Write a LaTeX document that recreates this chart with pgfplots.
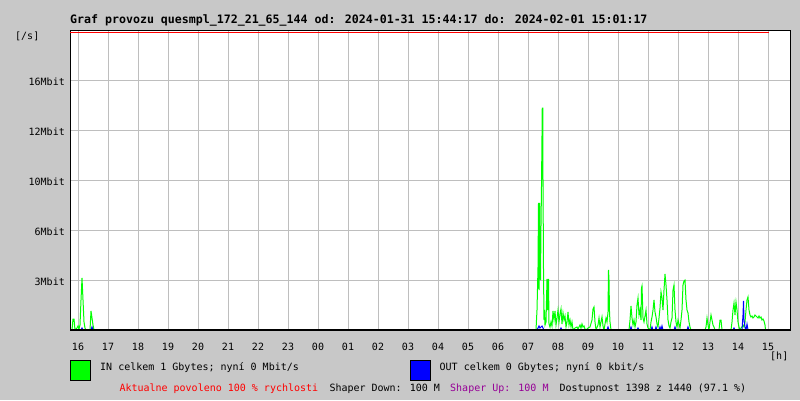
\documentclass[border=0pt]{standalone}
\usepackage{fontspec}
\setmainfont{DejaVu Sans Mono}
\usepackage{pgfplots}
\pgfplotsset{compat=1.18}
\definecolor{bggray}{RGB}{200,200,200}
\definecolor{gridgray}{RGB}{190,190,190}
\definecolor{ingreen}{RGB}{0,255,0}
\definecolor{outblue}{RGB}{0,0,255}
\definecolor{shaperup}{RGB}{150,0,150}

\begin{document}
\begin{tikzpicture}
\fill[bggray] (0pt,0pt) rectangle (800pt,400pt);
\useasboundingbox (0pt,0pt) rectangle (800pt,400pt);

% x: minutes since 16:00, y: plot height in px
\begin{axis}[
  at={(70pt,70pt)}, anchor=south west,
  scale only axis, width=720pt, height=300pt,
  xmin=-16, xmax=1424, ymin=0, ymax=300,
  axis background/.style={fill=white},
  axis line style={black, line width=0.8pt},
  xtick={0,60,...,1380},
  xticklabels={16,17,18,19,20,21,22,23,00,01,02,03,04,05,06,07,08,09,10,11,12,13,14,15},
  ytick={50,100,150,200,250},
  yticklabels={3Mbit,6Mbit,10Mbit,12Mbit,16Mbit},
  grid=major,
  major grid style={gridgray, line width=1pt},
  major tick length=0pt,
  xticklabel style={font=\fontsize{10}{12}\selectfont, anchor=base, inner sep=0pt, yshift=-20.7pt},
  yticklabel style={font=\fontsize{10}{12}\selectfont, anchor=base east, inner sep=0pt, xshift=-5pt, yshift=-5.7pt},
  clip=true,
]
\addplot[ingreen, line width=1pt, sharp plot] coordinates {
(-16,0) (-12,0) (-10,11) (-8,11) (-6,0) (-2,2) (0,4) (2,1) (4,5) (6,30) (8,52) (10,30) (12,8) (14,2) (16,0) (24,0) (26,19) (28,12) (30,5) (32,0)
(916,0) (918,20) (920,63) (921,127) (922,40) (923,127) (924,80) (925,50) (926,105) (927,144) (928,195) (928.5,222) (929.5,222) (929.5,165) (930,150) (931,60) (932,10) (933,20) (934,5) (936,8) (938,51) (939,20) (940,28) (941,51) (942,6) (944,3) (946,8) (948,4) (950,19) (952,10) (954,19) (956,5) (958,12) (960,20) (962,8) (964,16) (966,21) (968,6) (970,17) (972,10) (974,14) (976,3) (978,8) (980,18) (982,5) (984,10) (986,3) (988,8) (990,0) (994,2) (998,3) (1000,1) (1004,5) (1006,2) (1008,6) (1010,3) (1012,4) (1014,1) (1016,0) (1020,2) (1024,3) (1028,10) (1030,21) (1032,23) (1034,8) (1036,0) (1040,5) (1042,12) (1044,3) (1046,8) (1048,13) (1050,4) (1052,0) (1054,6) (1056,12) (1058,8) (1060,18) (1061,60) (1062,50) (1063,18) (1064,8) (1066,0)
(1102,0) (1104,10) (1106,24) (1108,12) (1110,5) (1112,10) (1114,3) (1116,8) (1118,25) (1120,32) (1122,15) (1124,20) (1126,10) (1127,42) (1128,44) (1130,12) (1132,8) (1134,14) (1136,20) (1138,6) (1140,2) (1144,0) (1146,8) (1148,13) (1150,20) (1152,30) (1154,18) (1156,13) (1158,6) (1160,3) (1162,12) (1164,22) (1166,38) (1168,32) (1170,20) (1172,40) (1174,56) (1176,45) (1178,30) (1180,10) (1182,4) (1184,2) (1186,8) (1188,12) (1190,40) (1192,45) (1194,20) (1196,8) (1198,3) (1200,10) (1202,6) (1204,2) (1206,10) (1208,20) (1210,45) (1212,49) (1214,50) (1216,30) (1218,20) (1220,17) (1222,8) (1224,3) (1226,0)
(1254,0) (1256,3) (1258,12) (1260,5) (1262,0) (1264,8) (1266,15) (1268,10) (1270,5) (1272,3) (1274,0) (1282,0) (1284,10) (1286,10) (1288,0)
(1306,0) (1308,8) (1310,20) (1312,27) (1314,15) (1316,28) (1318,20) (1320,8) (1322,3) (1324,0) (1326,2) (1328,3) (1330,5) (1332,3) (1334,8) (1336,20) (1338,30) (1340,33) (1342,20) (1344,15) (1346,13) (1348,14) (1350,12) (1352,13) (1354,15) (1356,14) (1358,13) (1360,12) (1362,14) (1364,12) (1366,13) (1368,10) (1370,11) (1372,9) (1374,5) (1375,0) (1382,0)
};
\addplot[outblue, line width=1pt, sharp plot] coordinates {
(-16,0) (6,0) (8,2) (10,0) (26,0) (28,3) (30,0) (918,0) (920,2) (922,4) (924,2) (926,3) (928,4) (930,2) (932,0) (964,0) (966,2) (968,0) (1058,0) (1060,3) (1062,0) (1104,0) (1106,3) (1108,0) (1118,0) (1120,2) (1122,0) (1146,0) (1148,3) (1150,0) (1154,0) (1156,3) (1158,0) (1162,0) (1164,3) (1166,0) (1168,4) (1170,0) (1192,0) (1194,3) (1196,0) (1218,0) (1220,3) (1222,0) (1310,0) (1312,2) (1314,0) (1328,0) (1330,15) (1331,29) (1332,10) (1334,3) (1336,0) (1338,6) (1340,0) (1382,0)
};
% allowed-speed limit line
\addplot[red, line width=1pt] coordinates {(-16,297.6) (1382,297.6)};
\draw[black, line width=1.5pt] (axis cs:-16,0) -- (axis cs:1424,0);
\end{axis}

\begin{scope}[x=1pt,y=1pt]
\node[anchor=base west, inner sep=0pt, font=\fontsize{11.6}{13}\selectfont\bfseries] at (70,376.7)
  {Graf provozu quesmpl\_172\_21\_65\_144 od: 2024-01-31 15:44:17 do: 2024-02-01 15:01:17};
\node[anchor=base west, inner sep=0pt, font=\fontsize{10}{12}\selectfont] at (15,360.5) {[/s]};
\node[anchor=base west, inner sep=0pt, font=\fontsize{10}{12}\selectfont] at (770,40.5) {[h]};

\filldraw[fill=ingreen, draw=black, line width=1pt] (70.5,20) rectangle (90.5,39.5);
\node[anchor=base west, inner sep=0pt, font=\fontsize{10}{12}\selectfont] at (100,29.5) {IN celkem 1 Gbytes; nyní 0 Mbit/s};
\filldraw[fill=outblue, draw=black, line width=1pt] (410.5,20) rectangle (430.5,39.5);
\node[anchor=base west, inner sep=0pt, font=\fontsize{10}{12}\selectfont] at (439.5,29.5) {OUT celkem 0 Gbytes; nyní 0 kbit/s};

\node[anchor=base west, inner sep=0pt, font=\fontsize{10}{12}\selectfont, text=red] at (119.3,8.5) {Aktualne povoleno 100 \% rychlosti};
\node[anchor=base west, inner sep=0pt, font=\fontsize{10}{12}\selectfont] at (329.3,8.5) {Shaper Down: 100 M};
\node[anchor=base west, inner sep=0pt, font=\fontsize{10}{12}\selectfont, text=shaperup] at (450,8.5) {Shaper Up: 100 M};
\node[anchor=base west, inner sep=0pt, font=\fontsize{10}{12}\selectfont] at (559.3,8.5) {Dostupnost 1398 z 1440 (97.1 \%)};
\end{scope}
\end{tikzpicture}
\end{document}
